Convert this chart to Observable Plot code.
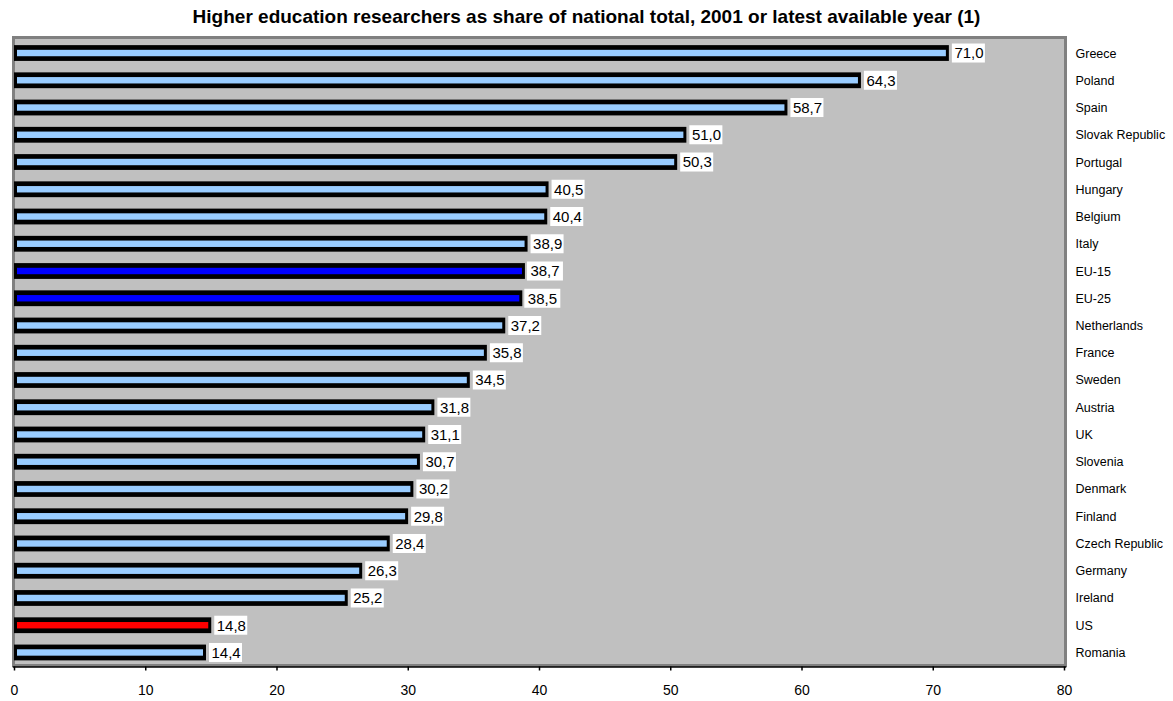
<!DOCTYPE html>
<html>
<head>
<meta charset="utf-8">
<script src="https://cdn.jsdelivr.net/npm/d3@7"></script>
<script src="https://cdn.jsdelivr.net/npm/@observablehq/plot@0.6"></script>
<style>
  body { margin: 0; background: #fff; font-family: Arial, "Liberation Sans", sans-serif; }
  #title { width: 1173px; height: 30px; line-height: 33px; text-align: center; font-weight: bold; font-size: 19px; color: #000; overflow: hidden; }
  #chart svg { display: block; }
</style>
</head>
<body>
<div id="title">Higher education researchers as share of national total, 2001 or latest available year (1)</div>
<div id="chart"></div>
<script>
const countries = ["Greece","Poland","Spain","Slovak Republic","Portugal","Hungary","Belgium","Italy","EU-15","EU-25","Netherlands","France","Sweden","Austria","UK","Slovenia","Denmark","Finland","Czech Republic","Germany","Ireland","US","Romania"];
const values = [71.0,64.3,58.7,51.0,50.3,40.5,40.4,38.9,38.7,38.5,37.2,35.8,34.5,31.8,31.1,30.7,30.2,29.8,28.4,26.3,25.2,14.8,14.4];
const labels = ["71,0","64,3","58,7","51,0","50,3","40,5","40,4","38,9","38,7 ","38,5 ","37,2","35,8","34,5","31,8","31,1","30,7","30,2","29,8","28,4","26,3","25,2","14,8","14,4"];
const groups = ["country","country","country","country","country","country","country","country","eu","eu","country","country","country","country","country","country","country","country","country","country","country","us","country"];
const xTicks = [0,10,20,30,40,50,60,70,80];

const groupColor = {country: "#99CCFF", eu: "#0000FF", us: "#FF0000"};
const data = countries.map((c, i) => ({country: c, value: values[i], label: labels[i], group: groups[i]}));

const chart = Plot.plot({
  width: 1173,
  height: 671,
  marginTop: 7,
  marginBottom: 36,
  marginLeft: 13,
  marginRight: 108,
  style: {fontFamily: "Arial, 'Liberation Sans', sans-serif", background: "transparent"},
  x: {domain: [0, 80], range: [14, 1064]},
  y: {domain: countries, range: [9.4, 636.1], paddingInner: 0.42, paddingOuter: 0.21, round: false},
  marks: [
    Plot.frame({fill: "#C0C0C0", stroke: "#808080", strokeWidth: 3}),
    Plot.frame({anchor: "bottom", stroke: "#000", strokeWidth: 1.5, dy: 1.5}),
    Plot.barX(data, {y: "country", x: "value", fill: "#000", insetRight: -3}),
    Plot.barX(data, {y: "country", x: "value", fill: d => groupColor[d.group], insetLeft: 3, insetTop: 4.7, insetBottom: 4.7}),
    Plot.barX(data.filter(d => !d.label.endsWith(" ")), {y: "country", x1: "value", x2: "value", fill: "#fff", insetLeft: 6, insetRight: -39, insetTop: -1.6, insetBottom: -1.6}),
    Plot.barX(data.filter(d => d.label.endsWith(" ")), {y: "country", x1: "value", x2: "value", fill: "#fff", insetLeft: 5, insetRight: -41, insetTop: -1.6, insetBottom: -1.6}),
    Plot.text(data, {y: "country", x: "value", text: "label", dx: 8, textAnchor: "start", fill: "#000", fontSize: 15}),
    Plot.axisX(xTicks, {anchor: "bottom", tickSize: 4, tickPadding: 14, fontSize: 14, stroke: "#000", strokeWidth: 1.5, fill: "#000", label: null, dy: 1.5, tickFormat: d => String(d)}),
    Plot.axisY({anchor: "right", tickSize: 0, tickPadding: 10, fontSize: 12.5, fill: "#000", label: null, textAnchor: "start"})
  ]
});
document.getElementById("chart").appendChild(chart);
</script>
</body>
</html>
